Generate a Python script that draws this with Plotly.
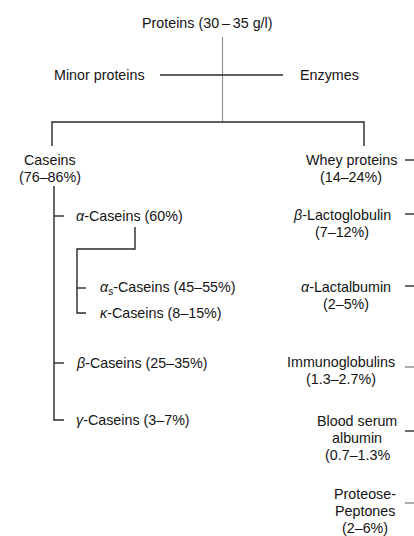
import plotly.graph_objects as go

# ---- text content ----
title = "Proteins (30\u2009–\u200935 g/l)"
minor_labels = ["Minor proteins", "Enzymes"]
casein_root = ["Caseins", "(76–86%)"]
casein_children = ["<i>α</i>-Caseins (60%)", "<i>β</i>-Caseins (25–35%)", "<i>γ</i>-Caseins (3–7%)"]
alpha_children = ["<i>α</i><sub>s</sub>-Caseins (45–55%)", "<i>κ</i>-Caseins (8–15%)"]
whey_labels = [
    ["Whey proteins", "(14–24%)"],
    ["<i>β</i>-Lactoglobulin", "(7–12%)"],
    ["<i>α</i>-Lactalbumin", "(2–5%)"],
    ["Immunoglobulins", "(1.3–2.7%)"],
    ["Blood serum", "albumin", "(0.7–1.3%"],
    ["Proteose-", "Peptones", "(2–6%)"],
]

# ---- layout positions (pixels in a 414x536 frame) ----
W, H = 414, 536
FONT = dict(family="Liberation Sans, Arial, sans-serif", size=14.3, color="#141414")
LINE = dict(color="#2a2a2a", width=1.4)
LH = 17  # line height of stacked labels

root_x, root_y = 207, 23
trunk_x = 222.5
minor_y = 75
split_y = 122
left_x, right_x = 52, 364
casein_x, casein_y0 = 50, 160
casein_bar_x = 54
casein_child_y = [216, 363, 420]
alpha_bar_x, alpha_joint_x, alpha_joint_y = 77, 135, 249
alpha_child_y = [288, 313]
whey_x = [351, 342, 346, 341, 357, 365]
whey_y0 = [160, 215, 287, 362, 421, 494]
whey_tick_y = [160, 214, 286, 367, 431, 503]

fig = go.Figure()

def seg(xs, ys, color=None, width=None):
    ln = dict(LINE)
    if color:
        ln["color"] = color
    if width:
        ln["width"] = width
    fig.add_trace(go.Scatter(x=xs, y=ys, mode="lines", line=ln,
                             hoverinfo="skip", showlegend=False))

# trunk
seg([trunk_x, trunk_x], [37, split_y], color="#8a8a8a", width=1.1)
# minor proteins cross-line
seg([160, 283], [minor_y, minor_y])
# split
seg([left_x, left_x, right_x, right_x], [146, split_y, split_y, 146])
# casein bar
seg([casein_bar_x, casein_bar_x, casein_bar_x + 10], [186, casein_child_y[-1], casein_child_y[-1]])
for y in casein_child_y[:-1]:
    seg([casein_bar_x, casein_bar_x + 10], [y, y])
# alpha sub-bracket
seg([alpha_joint_x, alpha_joint_x, alpha_bar_x, alpha_bar_x, alpha_bar_x + 9],
    [227, alpha_joint_y, alpha_joint_y, alpha_child_y[-1], alpha_child_y[-1]])
for y in alpha_child_y[:-1]:
    seg([alpha_bar_x, alpha_bar_x + 9], [y, y])
# whey ticks at right edge
for i, y in enumerate(whey_tick_y):
    seg([405, 414], [y, y], color="#2a2a2a" if i in (0, 1, 2, 4) else "#8a8a8a")

ann = []
ann.append(dict(x=root_x, y=root_y, text=title, xanchor="center"))
ann.append(dict(x=99, y=minor_y, text=minor_labels[0], xanchor="center"))
ann.append(dict(x=329, y=minor_y, text=minor_labels[1], xanchor="center"))
for k, t in enumerate(casein_root):
    ann.append(dict(x=casein_x, y=casein_y0 + k * LH, text=t, xanchor="center"))
for t, y in zip(casein_children, casein_child_y):
    ann.append(dict(x=74, y=y, text=t, xanchor="left"))
for t, y in zip(alpha_children, alpha_child_y):
    ann.append(dict(x=98, y=y, text=t, xanchor="left"))
for lines, x, y0 in zip(whey_labels, whey_x, whey_y0):
    for k, t in enumerate(lines):
        ann.append(dict(x=x, y=y0 + k * LH, text=t, xanchor="center"))

for a in ann:
    a.update(xref="x", yref="y", yanchor="middle", showarrow=False, font=FONT)

fig.update_layout(
    width=W, height=H,
    margin=dict(l=0, r=0, t=0, b=0),
    paper_bgcolor="white", plot_bgcolor="white",
    xaxis=dict(range=[0, W], visible=False, fixedrange=True),
    yaxis=dict(range=[H, 0], visible=False, fixedrange=True),
    annotations=ann,
    showlegend=False,
)
fig.write_html("out.html", config={"displayModeBar": False})

# remove the browser's default page margin so the figure sits at the window origin
with open("out.html", encoding="utf-8") as f:
    html = f.read()
html = html.replace("<head>", "<head><style>html,body{margin:0;padding:0;overflow:hidden}</style>", 1)
with open("out.html", "w", encoding="utf-8") as f:
    f.write(html)
